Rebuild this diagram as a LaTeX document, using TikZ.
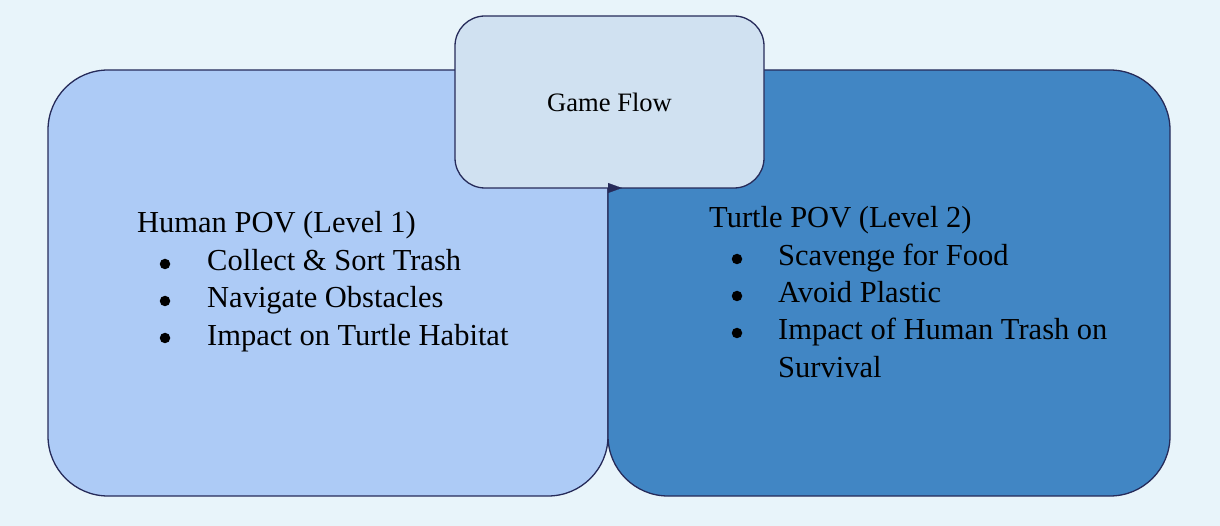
\documentclass[tikz,border=0pt]{standalone}
\usepackage{fontspec}
\setmainfont{Liberation Serif}
\usetikzlibrary{arrows.meta}
\definecolor{bgc}{HTML}{E8F4FA}
\definecolor{humc}{HTML}{ADCBF6}
\definecolor{turc}{HTML}{4186C4}
\definecolor{gfc}{HTML}{D0E1F1}
\definecolor{linec}{HTML}{262B5A}
\tikzset{
  box/.style={draw=linec, line width=1.3pt, rectangle, inner sep=0pt},
  big/.style={font=\fontsize{30.5}{37}\selectfont, inner sep=0pt, text=black},
  lbl/.style={big, anchor=base west},
  bul/.style={circle, fill=black, inner sep=0pt, minimum size=10.5pt},
  flowarrow/.style={draw=linec, line width=0.1pt, -{Triangle[length=14pt,width=10pt]}, color=linec}
}
\begin{document}
\begin{tikzpicture}[x=1pt,y=-1pt]
\fill[bgc] (0,0) rectangle (1220,526);
\useasboundingbox (0,0) rectangle (1220,526);
% boxes
\node[box, fill=humc, rounded corners=60pt, minimum width=560pt, minimum height=426pt] (hum) at (328,283) {};
\node[box, fill=turc, rounded corners=60pt, minimum width=562pt, minimum height=426pt] (tur) at (889,283) {};
\node[box, fill=gfc, rounded corners=30pt, minimum width=309pt, minimum height=172pt,
  font=\fontsize{26.6}{30}\selectfont] (gf) at (609.5,102) {Game Flow};
% arrow
\coordinate (ta) at (608,188);
\coordinate (tb) at (622,188);
\draw[flowarrow] (ta) -- (tb);
% left text
\node[lbl] (h0) at (137,233) {Human POV (Level 1)};
\node[bul] (hb1) at (165,264) {};
\node[lbl] (h1) at (207,271) {Collect \& Sort Trash};
\node[bul] (hb2) at (165,301) {};
\node[lbl] (h2) at (207,308) {Navigate Obstacles};
\node[bul] (hb3) at (165,338) {};
\node[lbl] (h3) at (207,345) {Impact on Turtle Habitat};
% right text
\node[lbl] (t0) at (709,228) {Turtle POV (Level 2)};
\node[bul] (tbl1) at (737,259) {};
\node[lbl] (t1) at (778,266) {Scavenge for Food};
\node[bul] (tbl2) at (737,296) {};
\node[lbl] (t2) at (778,303) {Avoid Plastic};
\node[bul] (tbl3) at (737,333) {};
\node[lbl] (t3) at (778,340) {Impact of Human Trash on};
\node[lbl] (t4) at (778,377) {Survival};
\end{tikzpicture}
\end{document}
